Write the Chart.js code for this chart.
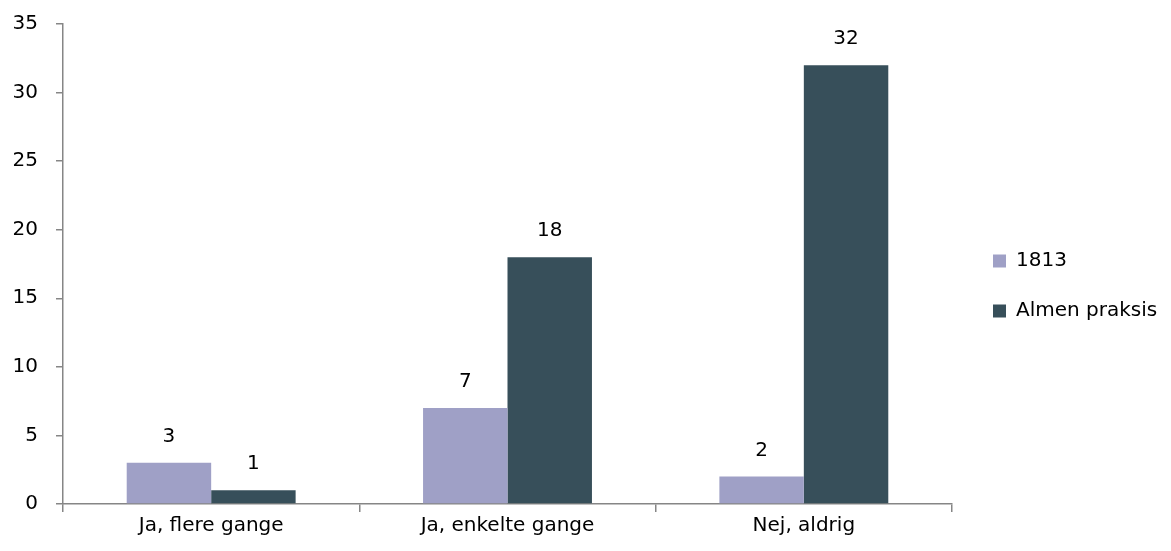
<!DOCTYPE html>
<html>
<head>
<meta charset="utf-8">
<script src="https://cdn.jsdelivr.net/npm/chart.js@4/dist/chart.umd.min.js"></script>
<style>
  html, body { margin: 0; padding: 0; background: #fff; }
  #wrap { width: 1171px; height: 551px; }
</style>
</head>
<body>
<div id="wrap"><canvas id="chart"></canvas></div>
<script>
const categories = ['Ja, flere gange', 'Ja, enkelte gange', 'Nej, aldrig'];
const series1813 = [3, 7, 2];
const seriesAlmen = [1, 18, 32];
const seriesNames = ['1813', 'Almen praksis'];

const FONT = '"DejaVu Sans", "Open Sans", sans-serif';
const axisGray = '#868686';

// simple value labels above each bar
const barValues = {
  id: 'barValues',
  afterDatasetsDraw(chart) {
    const ctx = chart.ctx;
    ctx.save();
    ctx.font = '20px ' + FONT;
    ctx.fillStyle = '#000';
    ctx.textAlign = 'center';
    ctx.textBaseline = 'middle';
    chart.data.datasets.forEach((ds, i) => {
      chart.getDatasetMeta(i).data.forEach((bar, j) => {
        ctx.fillText(ds.data[j], bar.x, bar.y - 26);
      });
    });
    ctx.restore();
  }
};

const chart = new Chart(document.getElementById('chart'), {
  type: 'bar',
  data: {
    labels: categories,
    datasets: [
      { label: seriesNames[0], data: series1813, backgroundColor: '#9fa0c6' },
      { label: seriesNames[1], data: seriesAlmen, backgroundColor: '#374f5a' },
    ],
  },
  options: {
    responsive: true,
    maintainAspectRatio: false,
    animation: false,
    layout: { padding: { top: 24, bottom: 11, left: 11, right: 4 } },
    datasets: { bar: { categoryPercentage: 0.57, barPercentage: 1 } },
    plugins: {
      tooltip: { enabled: false },
      legend: {
        position: 'right',
        labels: {
          boxWidth: 13, boxHeight: 13, padding: 30,
          color: '#000', font: { family: FONT, size: 20 },
        },
      },
    },
    scales: {
      x: {
        grid: { drawOnChartArea: false, tickLength: 8, color: axisGray, offset: true, lineWidth: 1.5 },
        border: { color: axisGray, width: 1.5 },
        ticks: { color: '#000', font: { family: FONT, size: 20 }, padding: 2 },
        afterFit(scale) { scale.paddingLeft = 0; scale.paddingRight = 0; },
      },
      y: {
        min: 0, max: 35,
        ticks: { stepSize: 5, color: '#000', font: { family: FONT, size: 20 }, padding: 18 },
        grid: { drawOnChartArea: false, tickLength: 7, color: axisGray, lineWidth: 1.5 },
        border: { color: axisGray, width: 1.5 },
        afterFit(scale) { scale.width = 52; scale.paddingTop = 0; },
      },
    },
  },
  plugins: [barValues],
});

// widen the legend box so the plot ends where the reference does,
// and nudge the legend items to where they sit in the reference
const origFit = chart.legend.fit;
chart.legend.fit = function () {
  origFit.call(this);
  this.width = 215;
};
const origDraw = chart.legend.draw;
chart.legend.draw = function () {
  this.ctx.save();
  this.ctx.translate(11, 4);
  origDraw.call(this);
  this.ctx.restore();
};
chart.update();
</script>
</body>
</html>
